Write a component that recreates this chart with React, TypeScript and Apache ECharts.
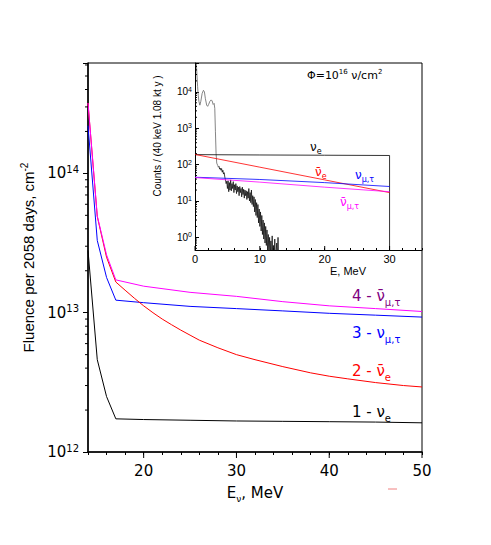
import React, { useEffect, useRef } from 'react';
import * as echarts from 'echarts';

// ---------- main plot data ----------
const mainE = [14, 15, 16, 17, 20, 25, 30, 35, 40, 45, 50];
const fluenceNuE = [2.8e13, 4.6e12, 2.5e12, 1.73e12, 1.71e12, 1.69e12, 1.67e12, 1.66e12, 1.65e12, 1.64e12, 1.62e12];
const fluenceNuMuTau = [2.2e14, 3.3e13, 1.79e13, 1.23e13, 1.18e13, 1.11e13, 1.07e13, 1.03e13, 9.9e12, 9.6e12, 9.3e12];
const fluenceAntiNuMuTau = [3.2e14, 4.95e13, 2.6e13, 1.72e13, 1.55e13, 1.4e13, 1.31e13, 1.2e13, 1.12e13, 1.07e13, 1.02e13];
const antiNuEE = [14, 15, 16, 17, 18, 19, 20, 21, 22, 23, 24, 25, 26, 28, 30, 32, 35, 38, 40, 42, 45, 48, 50];
const fluenceAntiNuE = [3.2e14, 4.9e13, 2.5e13, 1.66e13, 1.45e13, 1.27e13, 1.12e13, 1.0e13, 9.0e12, 8.2e12, 7.5e12, 6.9e12, 6.35e12, 5.6e12, 5.0e12, 4.6e12, 4.1e12, 3.7e12, 3.5e12, 3.35e12, 3.15e12, 3.0e12, 2.93e12];

const mainXTickLabels = [20, 30, 40, 50];
const mainYTickLabels = [12, 13, 14];

// ---------- inset data ----------
const insetE = [0, 10, 20, 30];
const countsNuE = [188, 184, 181, 178];
const countsAntiNuE = [190, 85, 38, 17];
const countsNuMuTau = [45, 39, 32, 25];
const countsAntiNuMuTau = [44, 33, 24, 18];

const measuredSmoothE = [0.2, 0.3, 0.4, 0.5, 0.6, 0.75, 0.9, 1.1, 1.3, 1.45, 1.6, 1.8, 1.95, 2.1, 2.3, 2.5, 2.65, 2.8, 2.95, 3.05, 3.15, 3.25, 3.35, 3.5, 3.6, 3.7];
const measuredSmooth = [62000, 30000, 14000, 8000, 5500, 4300, 5500, 9000, 11000, 10000, 6500, 4300, 4000, 4500, 5500, 6000, 5600, 4500, 4800, 3500, 800, 200, 110, 95, 85, 90];

const measuredNoisyE = [
  3.7, 3.8, 3.9, 4.0, 4.1, 4.2, 4.3, 4.4, 4.5, 4.6, 4.7, 4.8, 4.9, 5.0, 5.1, 5.2, 5.3, 5.4, 5.5, 5.6,
  5.7, 5.8, 5.9, 6.0, 6.1, 6.2, 6.3, 6.4, 6.5, 6.6, 6.7, 6.8, 6.9, 7.0, 7.1, 7.2, 7.3, 7.4, 7.5, 7.6,
  7.7, 7.8, 7.9, 8.0, 8.1, 8.2, 8.3, 8.4, 8.5, 8.6, 8.7, 8.8, 8.9, 9.0, 9.1, 9.2, 9.3, 9.4, 9.5, 9.6,
  9.7, 9.8, 9.9, 10.0, 10.1, 10.2, 10.3, 10.4, 10.5, 10.6, 10.7, 10.8, 10.9, 11.0, 11.1, 11.2, 11.3, 11.4, 11.5, 11.6,
  11.7, 11.8, 11.9, 12.0, 12.1, 12.2, 12.3, 12.4, 12.5, 12.6, 12.7, 12.8, 12.9
];
const measuredNoisy = [
  90, 75, 80, 70, 78, 62, 70, 55, 60, 45, 38, 30, 35, 22, 36, 18, 32, 20, 38, 19,
  30, 22, 34, 17, 28, 20, 30, 16, 26, 18, 24, 14, 25, 17, 22, 13, 24, 15, 21, 12,
  20, 14, 19, 11, 18, 12, 22, 10, 17, 9, 20, 8, 14, 7, 13, 5, 11, 4, 9, 3.5,
  8, 2.5, 6, 2, 5, 1.5, 4, 1.2, 3, 0.9, 2.5, 0.7, 2, 0.6, 1.6, 0.4, 1.2, 0.3, 1.0, 0.3,
  0.8, 0.2, 1.1, 0.2, 0.6, 0.2, 0.9, 0.2, 0.2, 0.7, 0.2, 1.0, 0.2
];

const insetXTickLabels = [0, 10, 20, 30];
const insetYTickLabels = [0, 1, 2, 3, 4];
const minorMult = [2, 3, 4, 5, 6, 7, 8, 9];

const SANS = 'DejaVu Sans';
const LIB = 'Liberation Sans';

const zip = (xs: number[], ys: number[]) => xs.map((x, i) => [x, ys[i]]);

const isPow10 = (v: number) => {
  const l = Math.log10(v);
  return Math.abs(l - Math.round(l)) < 1e-6;
};

function tickSeries(xi: number, data: number[][], dx: number, dy: number) {
  return {
    type: 'custom',
    xAxisIndex: xi,
    yAxisIndex: xi,
    clip: false,
    silent: true,
    z: 10,
    data,
    renderItem: (_p: any, api: any) => {
      const pt = api.coord([api.value(0), api.value(1)]);
      return {
        type: 'line',
        shape: { x1: pt[0], y1: pt[1], x2: pt[0] + dx, y2: pt[1] + dy },
        style: { stroke: '#000', lineWidth: 1 },
      };
    },
  };
}

function buildOption() {
  const mainYMinor: number[][] = [];
  [1e12, 1e13, 1e14].forEach((d) =>
    minorMult.forEach((m) => {
      if (m * d <= 6.2e14) mainYMinor.push([14, m * d]);
    })
  );
  const insetYMinor: number[][] = [];
  [0.1, 1, 10, 100, 1000, 10000].forEach((d) =>
    minorMult.forEach((m) => {
      const v = m * d;
      if (v >= 0.45 && v <= 6.2e4) insetYMinor.push([0, v]);
    })
  );

  const lab = (t: string, color: string, size: number, sub: string, subSize: number, lh: number, slh: number) => ({
    text: `{a|${t}}{s|${sub}}`,
    rich: {
      a: { fontSize: size, fontFamily: SANS, fill: color, color, lineHeight: lh },
      s: { fontSize: subSize, fontFamily: SANS, fill: color, color, verticalAlign: 'bottom', lineHeight: slh },
    },
  });

  const gText = (x: number, y: number, l: any) => ({
    type: 'text',
    x,
    y,
    silent: true,
    z: 20,
    style: { ...l, textAlign: 'left', textVerticalAlign: 'middle' },
  });

  return {
    animation: false,
    backgroundColor: '#fff',
    grid: [
      { left: 88, right: 69, top: 63, bottom: 93, show: true, borderColor: '#000', borderWidth: 1, backgroundColor: 'transparent' },
      { left: 195, right: 69, top: 63, bottom: 295, show: false },
    ],
    xAxis: [
      {
        type: 'value', gridIndex: 0, min: 14, max: 50, interval: 2,
        axisLine: { show: true, lineStyle: { color: '#000', width: 1.5 } },
        axisTick: { show: true, length: 3, lineStyle: { color: '#000' } },
        axisLabel: {
          formatter: (v: number) => (mainXTickLabels.includes(v) ? String(v) : ''),
          fontSize: 15, fontFamily: SANS, color: '#000', margin: 11,
        },
        splitLine: { show: false },
        name: '{a|E}{s|ν}{a|, MeV}',
        nameLocation: 'middle', nameGap: 31,
        nameTextStyle: {
          rich: {
            a: { fontSize: 15, fontFamily: SANS, color: '#000', lineHeight: 20 },
            s: { fontSize: 9, fontFamily: SANS, color: '#000', verticalAlign: 'bottom', lineHeight: 9 },
          },
        },
      },
      {
        type: 'value', gridIndex: 1, min: 0, max: 35, interval: 2,
        axisLine: { show: true, lineStyle: { color: '#000', width: 1 } },
        axisTick: { show: true, length: 2, inside: true, lineStyle: { color: '#000' } },
        axisLabel: {
          formatter: (v: number) => (insetXTickLabels.includes(v) ? String(v) : ''),
          fontSize: 11, fontFamily: LIB, color: '#000', margin: 3,
        },
        splitLine: { show: false },
      },
    ],
    yAxis: [
      {
        type: 'log', logBase: 10, gridIndex: 0, min: 1e12, max: 6.2e14,
        axisLine: { show: true, lineStyle: { color: '#000', width: 1.5 } },
        axisTick: { show: true, length: 5, lineStyle: { color: '#000' } },
        axisLabel: {
          formatter: (v: number) => (isPow10(v) && mainYTickLabels.includes(Math.round(Math.log10(v))) ? `{b|10}{s|${Math.round(Math.log10(v))}}` : ''),
          margin: 9,
          rich: {
            b: { fontSize: 15, fontFamily: SANS, color: '#000', lineHeight: 18 },
            s: { fontSize: 10, fontFamily: SANS, color: '#000', verticalAlign: 'top', lineHeight: 9 },
          },
        },
        splitLine: { show: false },
        name: '{a|Fluence per 2058 days, cm}{p|-2}',
        nameLocation: 'middle', nameRotate: 90, nameGap: 50,
        nameTextStyle: {
          rich: {
            a: { fontSize: 15, fontFamily: LIB, color: '#000', lineHeight: 18 },
            p: { fontSize: 10, fontFamily: LIB, color: '#000', verticalAlign: 'top', lineHeight: 9 },
          },
        },
      },
      {
        type: 'log', logBase: 10, gridIndex: 1, min: 0.45, max: 6.2e4,
        axisLine: { show: true, lineStyle: { color: '#000', width: 1 } },
        axisTick: { show: true, length: 4, inside: true, lineStyle: { color: '#000' } },
        axisLabel: {
          formatter: (v: number) => (isPow10(v) && insetYTickLabels.includes(Math.round(Math.log10(v))) ? `{b|10}{s|${Math.round(Math.log10(v))}}` : ''),
          margin: 3,
          rich: {
            b: { fontSize: 10, fontFamily: LIB, color: '#000', lineHeight: 12 },
            s: { fontSize: 7, fontFamily: LIB, color: '#000', verticalAlign: 'top', lineHeight: 6 },
          },
        },
        splitLine: { show: false },
      },
    ],
    graphic: [
      {
        type: 'text', x: 157, y: 136, rotation: Math.PI / 2, silent: true,
        style: { text: 'Counts / (40 keV 1.08 kt y )', fontSize: 10, fontFamily: LIB, fill: '#000', textAlign: 'center', textVerticalAlign: 'middle' },
      },
      {
        type: 'text', x: 330, y: 271, silent: true,
        style: { text: 'E, MeV', fontSize: 11, fontFamily: LIB, fill: '#000', textAlign: 'left', textVerticalAlign: 'middle' },
      },
      {
        type: 'text', x: 307, y: 75, silent: true,
        style: {
          text: '{a|Φ=10}{p|16}{a| ν/cm}{p|2}',
          textAlign: 'left', textVerticalAlign: 'middle',
          rich: {
            a: { fontSize: 11, fontFamily: SANS, fill: '#000', lineHeight: 14 },
            p: { fontSize: 7, fontFamily: SANS, fill: '#000', verticalAlign: 'top', lineHeight: 7 },
          },
        },
      },
      gText(310, 147, lab('ν', '#000', 12, 'e', 8, 16, 8)),
      gText(315, 172, lab('ν\u0304', '#ff0000', 12, 'e', 8, 16, 8)),
      gText(355, 175, lab('ν', '#0000ff', 12, 'μ,τ', 8, 16, 8)),
      gText(340, 202, lab('ν\u0304', '#ff00ff', 12, 'μ,τ', 8, 16, 8)),
      gText(352, 296, lab('4 - ν\u0304', '#800080', 15, 'μ,τ', 10, 22, 10)),
      gText(352, 333, lab('3 - ν', '#0000ff', 15, 'μ,τ', 10, 22, 10)),
      gText(352, 371, lab('2 - ν\u0304', '#ff0000', 15, 'e', 10, 22, 10)),
      gText(352, 412, lab('1 - ν', '#000000', 15, 'e', 10, 22, 10)),
      {
        type: 'line', silent: true,
        shape: { x1: 388, y1: 489, x2: 397, y2: 489 },
        style: { stroke: '#f08080', lineWidth: 1 },
      },
    ],
    series: [
      { type: 'line', name: 'nu_e', xAxisIndex: 0, yAxisIndex: 0, data: zip(mainE, fluenceNuE), showSymbol: false, symbol: 'none', lineStyle: { color: '#000', width: 1 } },
      { type: 'line', name: 'nu_mu_tau', xAxisIndex: 0, yAxisIndex: 0, data: zip(mainE, fluenceNuMuTau), showSymbol: false, symbol: 'none', lineStyle: { color: '#0000ff', width: 1 } },
      { type: 'line', name: 'anti_nu_e', xAxisIndex: 0, yAxisIndex: 0, data: zip(antiNuEE, fluenceAntiNuE), showSymbol: false, symbol: 'none', lineStyle: { color: '#ff0000', width: 1 } },
      { type: 'line', name: 'anti_nu_mu_tau', xAxisIndex: 0, yAxisIndex: 0, data: zip(mainE, fluenceAntiNuMuTau), showSymbol: false, symbol: 'none', lineStyle: { color: '#ff00ff', width: 1 } },

      { type: 'line', name: 'measured_smooth', xAxisIndex: 1, yAxisIndex: 1, data: zip(measuredSmoothE, measuredSmooth), showSymbol: false, symbol: 'none', clip: true, lineStyle: { color: '#666', width: 0.8 } },
      { type: 'line', name: 'measured_noisy', xAxisIndex: 1, yAxisIndex: 1, data: zip(measuredNoisyE, measuredNoisy), showSymbol: false, symbol: 'none', clip: true, lineStyle: { color: '#111', width: 0.8 } },
      { type: 'line', name: 'inset_nu_e', xAxisIndex: 1, yAxisIndex: 1, data: [...zip(insetE, countsNuE), [30, 0.01]], showSymbol: false, symbol: 'none', clip: true, lineStyle: { color: '#000', width: 0.8 } },
      { type: 'line', name: 'inset_anti_nu_e', xAxisIndex: 1, yAxisIndex: 1, data: zip(insetE, countsAntiNuE), showSymbol: false, symbol: 'none', lineStyle: { color: '#ff0000', width: 0.8 } },
      { type: 'line', name: 'inset_nu_mu_tau', xAxisIndex: 1, yAxisIndex: 1, data: zip(insetE, countsNuMuTau), showSymbol: false, symbol: 'none', lineStyle: { color: '#0000ff', width: 0.8 } },
      { type: 'line', name: 'inset_anti_nu_mu_tau', xAxisIndex: 1, yAxisIndex: 1, data: zip(insetE, countsAntiNuMuTau), showSymbol: false, symbol: 'none', lineStyle: { color: '#ff00ff', width: 0.8 } },

      tickSeries(0, mainYMinor, -3, 0),
      tickSeries(0, mainXTickLabels.map((v) => [v, 1e12]), 0, 6),
      tickSeries(1, insetYMinor, 2, 0),
      tickSeries(1, insetXTickLabels.map((v) => [v, 0.45]), 0, -4),
    ],
  };
}

export default function App() {
  const ref = useRef<HTMLDivElement>(null);
  useEffect(() => {
    if (!ref.current) return;
    const chart = echarts.init(ref.current, null, { renderer: 'svg' });
    chart.setOption(buildOption() as any);
    return () => chart.dispose();
  }, []);
  return (
    <div
      ref={ref}
      style={{ position: 'fixed', left: 0, top: 0, width: 491, height: 545, background: '#fff' }}
    />
  );
}
